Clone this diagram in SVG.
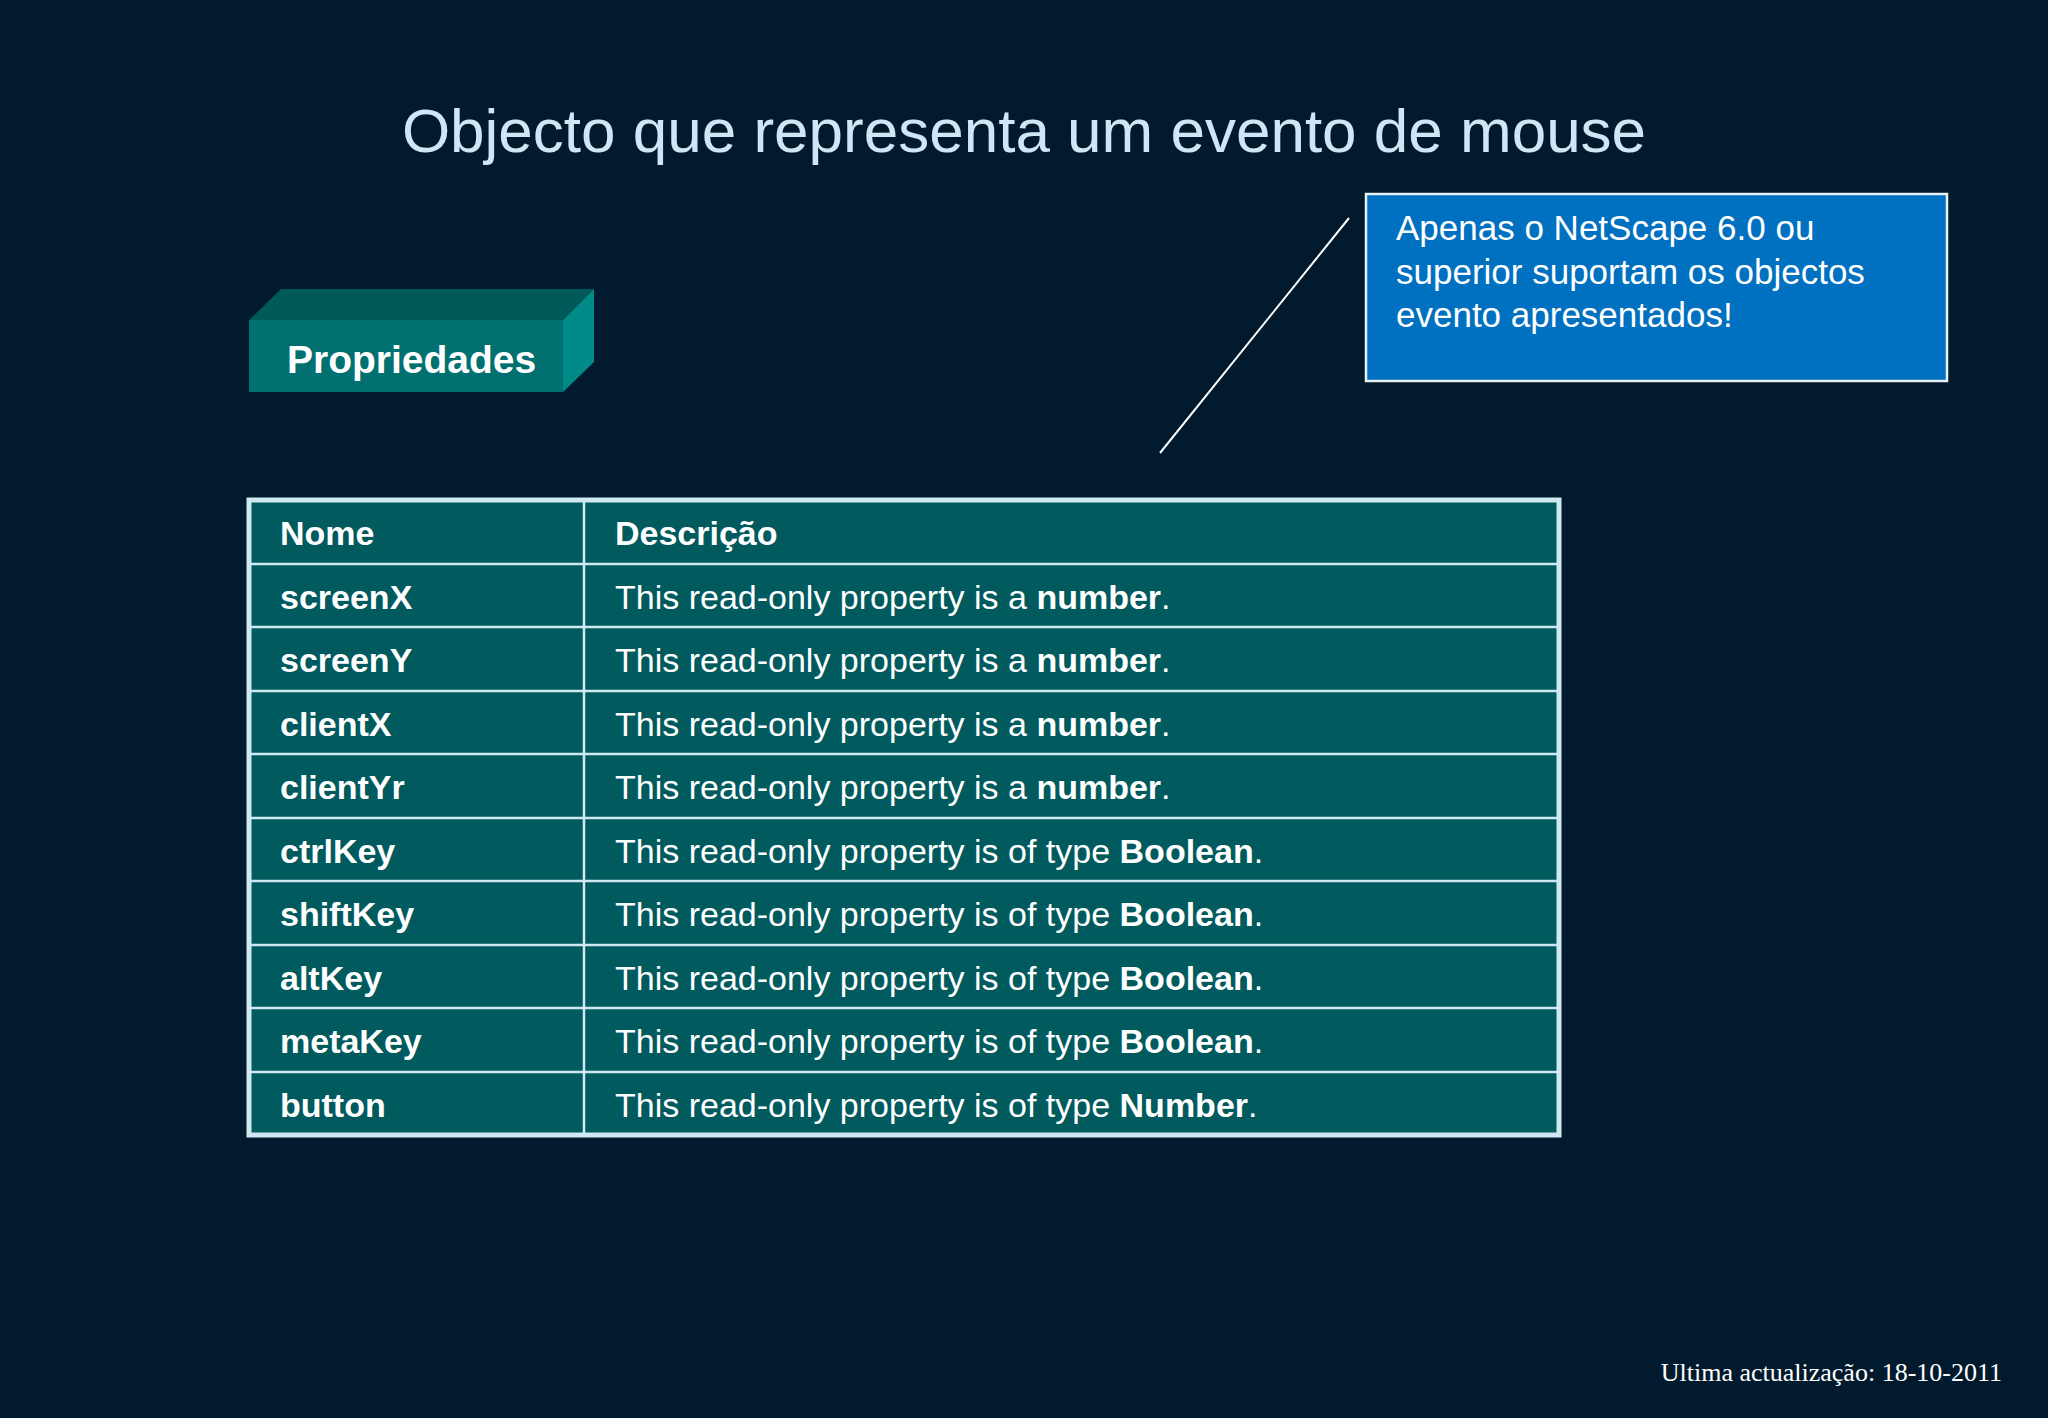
<svg xmlns="http://www.w3.org/2000/svg" width="2048" height="1418" viewBox="0 0 2048 1418">
<style>
.t{font-family:"Liberation Sans",Arial,sans-serif;fill:#fff;font-size:34px}
.b{font-weight:bold}
.g{stroke:#cfe8f2;stroke-width:2.5}
</style>
<rect width="2048" height="1418" fill="#021a2d"/>
<text x="1024" y="152" text-anchor="middle" class="t" style="font-size:62px;fill:#cfe6f5">Objecto que representa um evento de mouse</text>
<g id="propriedades">
<polygon points="249,320 281,289 594,289 563,320" fill="#005a58"/>
<polygon points="563,320 594,289 594,362 563,392" fill="#008a88"/>
<rect x="249" y="320" width="314" height="72" fill="#007070"/>
<text x="287" y="373" class="t b" style="font-size:39px">Propriedades</text>
</g>
<g id="connectors"><line x1="1349" y1="218" x2="1160" y2="453" stroke="#fff" stroke-width="2"/></g>
<g id="callout">
<rect x="1366" y="194" width="581" height="187" fill="#0070c0" stroke="#e8f0f8" stroke-width="2.5"/>
<text class="t" style="font-size:35px"><tspan x="1396" y="240">Apenas o NetScape 6.0 ou</tspan><tspan x="1396" y="284">superior   suportam os objectos</tspan><tspan x="1396" y="327">evento apresentados!</tspan></text>
</g>
<g id="table">
<rect x="249" y="500" width="1310" height="635" fill="#005a5e" stroke="#cfe8f2" stroke-width="5"/>
<g class="g">
<line x1="584" y1="500" x2="584" y2="1135"/>
<line x1="249" y1="564" x2="1559" y2="564"/>
<line x1="249" y1="627" x2="1559" y2="627"/>
<line x1="249" y1="691" x2="1559" y2="691"/>
<line x1="249" y1="754" x2="1559" y2="754"/>
<line x1="249" y1="818" x2="1559" y2="818"/>
<line x1="249" y1="881" x2="1559" y2="881"/>
<line x1="249" y1="945" x2="1559" y2="945"/>
<line x1="249" y1="1008" x2="1559" y2="1008"/>
<line x1="249" y1="1072" x2="1559" y2="1072"/>
</g>
<g class="t">
<text x="280" y="545" class="b">Nome</text><text x="615" y="545" class="b">Descrição</text>
<text x="280" y="609" class="b">screenX</text><text x="615" y="609">This read-only property is a <tspan class="b">number</tspan>.</text>
<text x="280" y="672" class="b">screenY</text><text x="615" y="672">This read-only property is a <tspan class="b">number</tspan>.</text>
<text x="280" y="736" class="b">clientX</text><text x="615" y="736">This read-only property is a <tspan class="b">number</tspan>.</text>
<text x="280" y="799" class="b">clientYr</text><text x="615" y="799">This read-only property is a <tspan class="b">number</tspan>.</text>
<text x="280" y="863" class="b">ctrlKey</text><text x="615" y="863">This read-only property is of type <tspan class="b">Boolean</tspan>.</text>
<text x="280" y="926" class="b">shiftKey</text><text x="615" y="926">This read-only property is of type <tspan class="b">Boolean</tspan>.</text>
<text x="280" y="990" class="b">altKey</text><text x="615" y="990">This read-only property is of type <tspan class="b">Boolean</tspan>.</text>
<text x="280" y="1053" class="b">metaKey</text><text x="615" y="1053">This read-only property is of type <tspan class="b">Boolean</tspan>.</text>
<text x="280" y="1117" class="b">button</text><text x="615" y="1117">This read-only property is of type <tspan class="b">Number</tspan>.</text>
</g>
</g>
<text x="2002" y="1381" text-anchor="end" style="font-family:'Liberation Serif',serif;font-size:26px;fill:#fff">Ultima actualização: 18-10-2011</text>
</svg>
